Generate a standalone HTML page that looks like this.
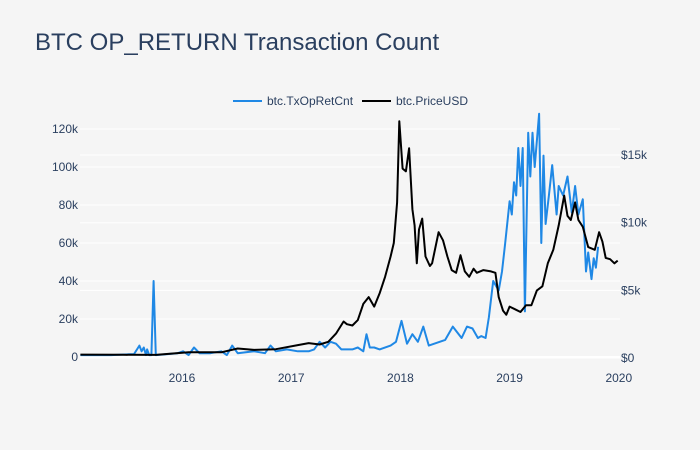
<!DOCTYPE html>
<html><head><meta charset="utf-8"><style>
body{margin:0;background:#f5f5f5;font-family:"Liberation Sans",sans-serif;}
svg{display:block}
</style></head><body>
<svg id="chart" width="700" height="450" xmlns="http://www.w3.org/2000/svg">
<rect width="700" height="450" fill="#f5f5f5"/>
<text x="35" y="50" font-size="24" fill="#2a3f5f" font-family="Liberation Sans, sans-serif">BTC OP_RETURN Transaction Count</text>
<g id="grid"></g>
<g id="axes"></g>
<g id="series"></g>
<g font-size="12" fill="#2a3f5f">
<g><line x1="233" y1="101" x2="262" y2="101" stroke="#1f88e5" stroke-width="2"/><text x="267" y="105">btc.TxOpRetCnt</text></g>
<g><line x1="362" y1="101" x2="391" y2="101" stroke="#000" stroke-width="2"/><text x="396" y="105">btc.PriceUSD</text></g>
</g>
</svg>
<script>
const xTicks=[2016,2017,2018,2019,2020];
const yLeftTicks=[0,20,40,60,80,100,120];
const yRightTicks=[0,5,10,15];
const txDates=[2015.07,2015.35,2015.56,2015.61,2015.63,2015.65,2015.67,2015.68,2015.7,2015.72,2015.74,2015.76,2015.96,2016.01,2016.06,2016.11,2016.16,2016.26,2016.36,2016.41,2016.46,2016.51,2016.66,2016.76,2016.81,2016.86,2016.96,2017.06,2017.16,2017.21,2017.26,2017.31,2017.36,2017.41,2017.46,2017.56,2017.61,2017.66,2017.69,2017.72,2017.76,2017.81,2017.91,2017.96,2018.01,2018.06,2018.11,2018.16,2018.21,2018.26,2018.36,2018.41,2018.48,2018.56,2018.61,2018.66,2018.71,2018.74,2018.78,2018.81,2018.85,2018.9,2018.93,2018.96,2019.0,2019.02,2019.04,2019.06,2019.08,2019.1,2019.12,2019.14,2019.17,2019.19,2019.21,2019.23,2019.27,2019.29,2019.31,2019.33,2019.36,2019.39,2019.43,2019.45,2019.49,2019.53,2019.57,2019.6,2019.63,2019.67,2019.7,2019.72,2019.75,2019.77,2019.79,2019.81,2019.86,2019.89,2019.93,2019.96];
const txValues=[1,1,1.5,6,3,5,1,4,1,1,40,1,2,3,1,5,2,2,3,1,6,2,3,2,6,3,4,3,3,4,8,5,8,7,4,4,5,3,12,5,5,4,6,8,19,7,12,8,16,6,8,9,16,10,16,15,10,11,10,21,40,35,45,60,82,75,92,85,110,90,110,24,118,95,118,100,128,60,106,70,85,101,75,90,85,95,76,90,75,83,45,55,41,52,47,58];
const priceDates=[2015.07,2015.46,2015.76,2016.06,2016.36,2016.51,2016.66,2016.86,2017.06,2017.16,2017.26,2017.34,2017.41,2017.48,2017.51,2017.56,2017.61,2017.66,2017.71,2017.76,2017.81,2017.86,2017.91,2017.94,2017.97,2017.99,2018.02,2018.05,2018.08,2018.11,2018.13,2018.15,2018.17,2018.2,2018.23,2018.27,2018.29,2018.35,2018.39,2018.43,2018.47,2018.51,2018.55,2018.59,2018.63,2018.67,2018.7,2018.76,2018.83,2018.87,2018.9,2018.94,2018.97,2019.0,2019.05,2019.1,2019.15,2019.2,2019.25,2019.3,2019.35,2019.4,2019.45,2019.5,2019.53,2019.56,2019.6,2019.63,2019.67,2019.72,2019.78,2019.82,2019.85,2019.88,2019.92,2019.96,2019.99];
const priceValues=[0.25,0.24,0.23,0.43,0.42,0.7,0.6,0.65,0.95,1.1,1.0,1.2,1.8,2.7,2.5,2.4,2.8,4.0,4.5,3.8,4.8,6.0,7.5,8.5,11.5,17.5,14,13.8,15.5,11,9.8,7.0,9.5,10.3,7.5,6.8,7.0,9.3,8.7,7.5,6.5,6.3,7.6,6.4,6.0,6.6,6.3,6.5,6.4,6.3,4.5,3.5,3.2,3.8,3.6,3.4,3.9,3.9,5.0,5.3,7.0,8.0,9.8,12.0,10.5,10.2,11.5,10.2,9.7,8.2,8.0,9.3,8.6,7.4,7.3,7.0,7.2];
const NS="http://www.w3.org/2000/svg";
const X0=80,X1=620;
const xs=t=>182+(t-2016)*109.2;
const yL=v=>357-v*1.9;
const yR=v=>358-v*13.53;
function mk(tag,attrs,parent){const e=document.createElementNS(NS,tag);for(const k in attrs)e.setAttribute(k,attrs[k]);parent.appendChild(e);return e;}
const grid=document.getElementById('grid'),axes=document.getElementById('axes'),series=document.getElementById('series');
yLeftTicks.forEach(v=>{
  const l=mk('line',{x1:X0,x2:X1,y1:yL(v),y2:yL(v),stroke:'#fff','stroke-width':v===0?2:1},grid);
  
  
  const t=mk('text',{x:X0-2,y:yL(v)+4,'text-anchor':'end','font-size':12,fill:'#2a3f5f'},axes);
  t.textContent=v===0?'0':v+'k';
  
  
});
yRightTicks.forEach(v=>{
  const l=mk('line',{x1:X0,x2:X1,y1:yR(v),y2:yR(v),stroke:'#fff','stroke-width':1},grid);
  
  
  const t=mk('text',{x:621,y:yR(v)+4,'font-size':12,fill:'#2a3f5f'},axes);
  t.textContent=v===0?'$0':'$'+v+'k';
  
  
});
xTicks.forEach(v=>{
  const t=mk('text',{x:xs(v),y:382,'text-anchor':'middle','font-size':12,fill:'#2a3f5f'},axes);
  t.textContent=v;
  
  
});
function path(dates,vals,yf){return dates.map((d,i)=>(i?'L':'M')+xs(d).toFixed(1)+','+yf(vals[i]).toFixed(1)).join('');}
const p1=mk('path',{d:path(txDates,txValues,yL),fill:'none',stroke:'#1f88e5','stroke-width':2,'stroke-linejoin':'round'},series);


const p2=mk('path',{d:path(priceDates,priceValues,yR),fill:'none',stroke:'#000','stroke-width':2,'stroke-linejoin':'round'},series);


</script>
</body></html>
